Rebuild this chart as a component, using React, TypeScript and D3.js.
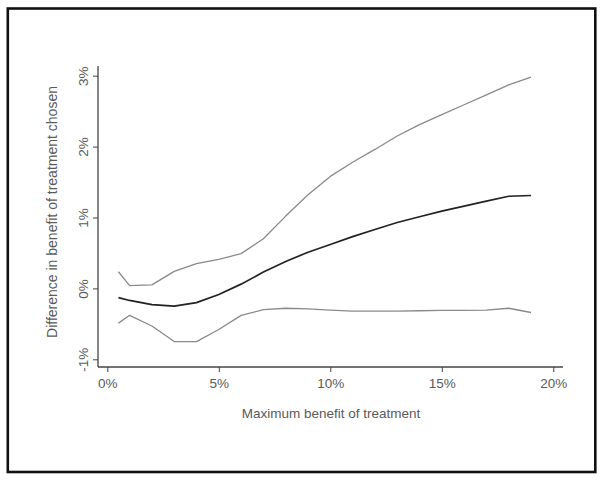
import React, { useEffect, useRef } from "react";
import * as d3 from "d3";

// Maximum benefit of treatment (%)
const benefit = [0.5, 1, 2, 3, 4, 5, 6, 7, 8, 9, 10, 11, 12, 13, 14, 15, 16, 17, 18, 19];
// Difference in benefit of treatment chosen (%)
const estimate = [-0.13, -0.17, -0.23, -0.25, -0.2, -0.085, 0.06, 0.23, 0.38, 0.51, 0.62, 0.73, 0.83, 0.93, 1.01, 1.09, 1.16, 1.23, 1.3, 1.31];
const upperBound = [0.235, 0.04, 0.05, 0.24, 0.35, 0.41, 0.49, 0.7, 1.02, 1.32, 1.58, 1.78, 1.96, 2.15, 2.31, 2.45, 2.59, 2.73, 2.87, 2.98];
const lowerBound = [-0.49, -0.38, -0.53, -0.75, -0.75, -0.58, -0.38, -0.3, -0.28, -0.29, -0.305, -0.32, -0.32, -0.32, -0.315, -0.31, -0.31, -0.305, -0.28, -0.34];

const xTicks = [0, 5, 10, 15, 20];
const yTicks = [-1, 0, 1, 2, 3];

export default function App() {
  const svgRef = useRef<SVGSVGElement>(null);
  const width = 604;
  const height = 482;

  useEffect(() => {
    const svg = d3.select(svgRef.current);
    svg.selectAll("*").remove();

    const xScale = d3.scaleLinear().domain([0, 20]).range([107.3, 553.3]);
    const yScale = d3.scaleLinear().domain([-1, 3]).range([359.3, 75.7]);
    const font = "'Liberation Sans', Arial, sans-serif";
    const textColor = "#5a5a5a";

    // outer frame
    svg.append("rect")
      .attr("x", 7.8).attr("y", 8.5)
      .attr("width", 587.5).attr("height", 463.5)
      .attr("fill", "white")
      .attr("stroke", "#111")
      .attr("stroke-width", 2.6);

    // x-axis
    const xAxis = svg.append("g")
      .attr("transform", "translate(0, 367)")
      .call(d3.axisBottom(xScale).tickValues(xTicks).tickSize(5).tickSizeOuter(0).tickFormat(d => `${d}%`));
    xAxis.select(".domain").attr("d", `M98,0H563`).attr("stroke", "#444").attr("stroke-width", 1.3);
    xAxis.selectAll(".tick line").attr("stroke", "#444");
    xAxis.selectAll(".tick text")
      .attr("y", 11)
      .attr("font-family", font).attr("font-size", 13.5).attr("fill", textColor);

    // y-axis
    const yAxis = svg.append("g")
      .attr("transform", "translate(98, 0)")
      .call(d3.axisLeft(yScale).tickValues(yTicks).tickSize(5).tickSizeOuter(0).tickFormat(d => `${d}%`));
    yAxis.select(".domain").attr("d", `M0,66V367`).attr("stroke", "#444").attr("stroke-width", 1.3);
    yAxis.selectAll(".tick line").attr("stroke", "#444");
    yAxis.selectAll(".tick text")
      .attr("x", null).attr("dy", null)
      .attr("transform", "translate(-10,0) rotate(-90)")
      .attr("text-anchor", "middle")
      .attr("font-family", font).attr("font-size", 13.5).attr("fill", textColor);

    // lines
    const line = d3.line<number>().x((d, i) => xScale(benefit[i])).y(d => yScale(d));
    const series = [
      { data: upperBound, color: "#8a8a8a", w: 1.3 },
      { data: lowerBound, color: "#8a8a8a", w: 1.3 },
      { data: estimate, color: "#222", w: 1.7 }
    ];
    series.forEach(s => {
      svg.append("path")
        .datum(s.data)
        .attr("fill", "none")
        .attr("stroke", s.color)
        .attr("stroke-width", s.w)
        .attr("stroke-linejoin", "round")
        .attr("d", line);
    });

    // axis titles
    svg.append("text")
      .attr("x", 331).attr("y", 418)
      .attr("text-anchor", "middle")
      .attr("font-family", font).attr("font-size", 13.5).attr("fill", textColor)
      .text("Maximum benefit of treatment");

    svg.append("text")
      .attr("transform", "translate(57, 212) rotate(-90)")
      .attr("text-anchor", "middle")
      .attr("font-family", font).attr("font-size", 14).attr("fill", textColor)
      .text("Difference in benefit of treatment chosen");
  }, []);

  return (
    <div style={{ position: "absolute", left: 0, top: 0 }}>
      <svg ref={svgRef} width={width} height={height} style={{ display: "block", background: "white" }} />
    </div>
  );
}
